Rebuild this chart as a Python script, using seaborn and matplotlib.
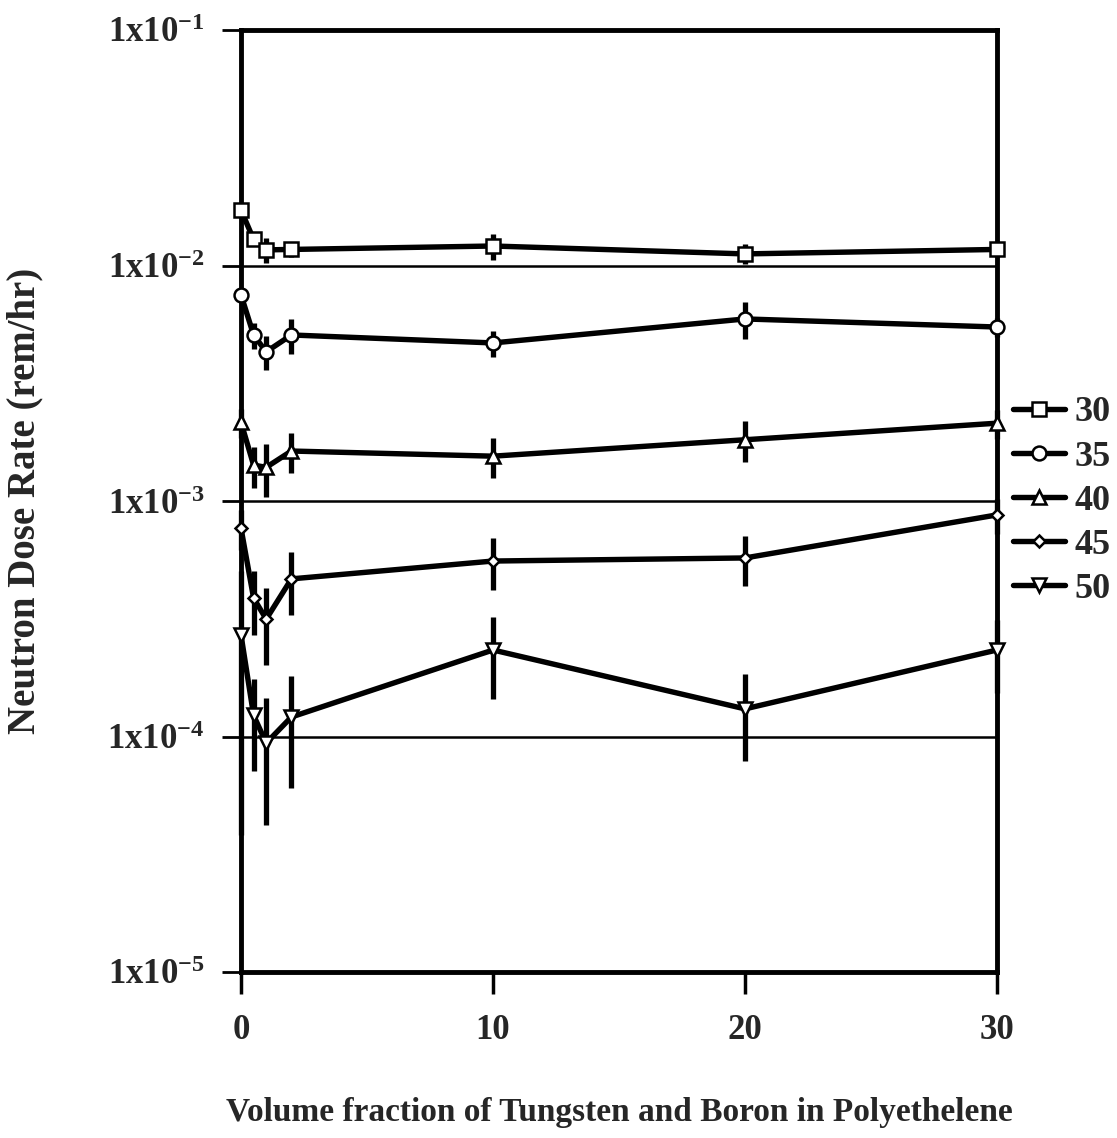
import matplotlib
matplotlib.use("Agg")
import matplotlib.pyplot as plt
from matplotlib.lines import Line2D
from matplotlib.ticker import FixedLocator, NullLocator, FuncFormatter
import numpy as np
import pandas as pd
import seaborn as sns

# Volume fraction (%) of tungsten and boron in polyethylene
fraction = [0, 0.5, 1, 2, 10, 20, 30]

# Shield thickness series (legend labels)
series_labels = ["30", "35", "40", "45", "50"]

# Neutron dose rate (rem/hr) for each thickness
dose_30 = [0.0172, 0.0129, 0.01165, 0.0117, 0.0121, 0.0112, 0.0117]
dose_35 = [0.0075, 0.00507, 0.0043, 0.00507, 0.00469, 0.00593, 0.00548]
dose_40 = [0.00216, 0.00142, 0.00139, 0.00163, 0.00155, 0.00182, 0.00214]
dose_45 = [0.000767, 0.000387, 0.000315, 0.000467, 0.000556, 0.000573, 0.000873]
dose_50 = [0.00027, 0.000123, 0.0000938, 0.000121, 0.000233, 0.000131, 0.000233]

# Statistical uncertainty (rem/hr) for each thickness
err_30 = [0.0008, 0.0008, 0.0014, 0.0008, 0.0015, 0.0011, 0.0008]
err_35 = [0.0005, 0.00065, 0.0007, 0.00085, 0.0006, 0.00105, 0.0005]
err_40 = [0.0003, 0.00028, 0.00035, 0.00031, 0.0003, 0.00036, 0.0003]
err_45 = [0.00015, 0.000116, 0.000113, 0.00014, 0.000139, 0.000138, 0.00015]
err_50 = [0.000232, 0.0000517, 0.0000516, 0.0000605, 0.0000885, 0.0000524, 0.00008]

doses = [dose_30, dose_35, dose_40, dose_45, dose_50]
errors = [err_30, err_35, err_40, err_45, err_50]
markers = ["s", "o", "^", "D", "v"]
marker_sizes = [10, 10, 10, 6.5, 10]

sns.set_theme(style="white")
serif_bold = "Liberation Serif"
plt.rcParams["font.family"] = [serif_bold, "DejaVu Serif"]
plt.rcParams["font.weight"] = "bold"
plt.rcParams["mathtext.fontset"] = "custom"
plt.rcParams["mathtext.rm"] = "Liberation Serif:bold"
plt.rcParams["mathtext.it"] = "Liberation Serif:bold"
plt.rcParams["mathtext.bf"] = "Liberation Serif:bold"
plt.rcParams["mathtext.default"] = "rm"

records = []
for lab, ys in zip(series_labels, doses):
    for x, y in zip(fraction, ys):
        records.append({"fraction": x, "dose": y, "thickness": lab})
df = pd.DataFrame(records)

fig = plt.figure(figsize=(11.17, 11.38), dpi=100)
ax = fig.add_axes([241 / 1117, 1 - 972 / 1138, (997 - 241) / 1117, (972 - 30) / 1138])

# Error bars underneath the lines
for ys, es in zip(doses, errors):
    ax.errorbar(fraction, ys, yerr=es, fmt="none", ecolor="black",
                elinewidth=3.8, capsize=0, zorder=3, clip_on=False)

sns.lineplot(data=df, x="fraction", y="dose", hue="thickness", style="thickness",
             palette=["black"] * 5, markers=dict(zip(series_labels, markers)),
             dashes=False, linewidth=3.9, legend=False, ax=ax, zorder=4,
             sort=True, estimator=None, errorbar=None)

for line, ms in zip(ax.get_lines(), marker_sizes):
    line.set_markerfacecolor("white")
    line.set_markeredgecolor("black")
    line.set_markeredgewidth(1.8)
    line.set_markersize(ms)
    line.set_clip_on(False)

ax.set_yscale("log")
ax.set_ylim(1e-5, 1e-1)
ax.set_xlim(0, 30)
ax.yaxis.set_major_locator(FixedLocator([1e-5, 1e-4, 1e-3, 1e-2, 1e-1]))
ax.yaxis.set_minor_locator(NullLocator())
ax.yaxis.set_major_formatter(FuncFormatter(lambda v, p: r"1x10$^{%d}$" % int(round(np.log10(v)))))
ax.xaxis.set_major_locator(FixedLocator([0, 10, 20, 30]))

ax.grid(axis="y", color="black", linewidth=1.8)
ax.grid(axis="x", visible=False)
for sp in ax.spines.values():
    sp.set_color("black")
    sp.set_linewidth(3.5)
    sp.set_visible(True)

ax.tick_params(axis="y", which="major", direction="out", length=14, width=2,
               color="black", labelsize=25, pad=12, left=True)
ax.tick_params(axis="x", which="major", direction="out", length=16, width=2.5,
               color="black", labelsize=25, pad=14, bottom=True)
for lbl in ax.get_xticklabels() + ax.get_yticklabels():
    lbl.set_fontweight("bold")

ax.set_xlabel("Volume fraction of Tungsten and Boron in Polyethelene",
              fontsize=24, fontweight="bold", labelpad=36)
ax.set_ylabel("Neutron Dose Rate (rem/hr)", fontsize=28, fontweight="bold")
ax.yaxis.set_label_coords(-0.262, 0.5)

handles = [Line2D([], [], color="black", linewidth=3.9, marker=m, markersize=ms,
                  markerfacecolor="white", markeredgecolor="black", markeredgewidth=1.8)
           for m, ms in zip(markers, marker_sizes)]
fig.legend(handles, series_labels, loc="center left",
           bbox_to_anchor=(1013 / 1117, 1 - 501 / 1138), frameon=False,
           prop={"family": serif_bold, "weight": "bold", "size": 26},
           handlelength=1.45, handletextpad=0.25, labelspacing=0.3, borderpad=0,
           borderaxespad=0)

fig.savefig("out.png", dpi=100)
